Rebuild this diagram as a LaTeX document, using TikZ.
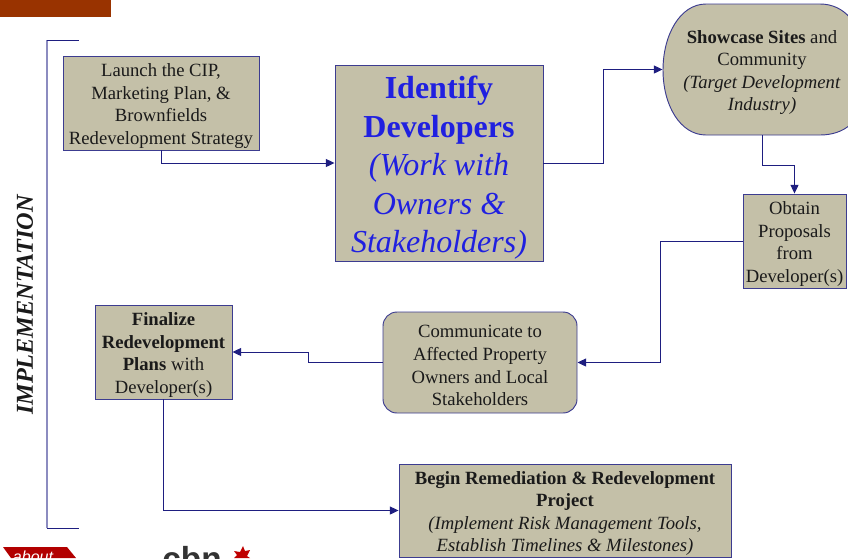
\documentclass[tikz,border=0pt]{standalone}
\usepackage{fontspec}
\setmainfont{Liberation Serif}
\setsansfont{Liberation Sans}
\usetikzlibrary{arrows.meta}
\definecolor{boxfill}{HTML}{C4C0A8}
\definecolor{navy}{HTML}{1E1E80}
\definecolor{edge}{HTML}{3C3C90}
\definecolor{brack}{HTML}{8C8CC0}
\definecolor{rust}{HTML}{993300}
\definecolor{blu}{HTML}{2020E0}
\definecolor{ink}{HTML}{1A1A1A}
\newcommand{\drop}{\rule{0pt}{14pt}}
\tikzset{
  px/.style={x=0.75pt,y=-0.75pt},
  stepbox/.style={draw=edge,line width=0.7pt,fill=boxfill,text=ink,align=center,inner sep=0pt,
    font=\fontsize{14pt}{16.9pt}\selectfont},
  conn/.style={draw=navy,line width=0.75pt},
  arr/.style={conn,-{Triangle[length=6.5pt,width=6pt,fill=navy]}},
}
\begin{document}
\begin{tikzpicture}[px]
\useasboundingbox (0,0) rectangle (848,558);
\clip (0,0) rectangle (848,558);
\fill[rust] (0,0) rectangle (111,17);
% bracket
\draw[brack,line width=1.4pt] (47,40) -- (47,528);
\draw[navy,line width=0.6pt] (46.5,40) -- (79,40);
\draw[navy,line width=0.6pt] (46.5,528) -- (79,528);
\node[rotate=90,text=ink,font=\fontsize{18.2pt}{20pt}\selectfont\bfseries\itshape] (impl) at (25,305) {IMPLEMENTATION};
% showcase shape
\draw[edge,line width=0.7pt,fill=boxfill] (663,70)
  .. controls (663,35) and (680,4) .. (706,4) -- (820,4)
  .. controls (845,4) and (861,25) .. (861,50) -- (861,100)
  .. controls (861,120) and (845,135) .. (820,135) -- (706,135)
  .. controls (680,135) and (663,105) .. (663,70) -- cycle;
\node[stepbox,draw=none,fill=none,minimum width=148.5pt,minimum height=98.25pt] (show) at (762,69.5)
  {\drop\textbf{Showcase Sites} and\\Community\\\textit{(Target Development}\\\textit{Industry)}};
% boxes
\node[stepbox,minimum width=147pt,minimum height=70.5pt] (launch) at (161,103)
  {\drop Launch the CIP,\\Marketing Plan, \&\\Brownfields\\Redevelopment Strategy};
\node[stepbox,minimum width=156pt,minimum height=147pt,text=blu,font=\fontsize{24pt}{28.8pt}\selectfont] (ident) at (439,163)
  {\rule{0pt}{24pt}\textbf{Identify}\\\textbf{Developers}\\\textit{(Work with}\\\textit{Owners \&}\\\textit{Stakeholders)}};
\node[stepbox,minimum width=77.25pt,minimum height=70.5pt] (obtain) at (794.5,241)
  {\drop Obtain\\Proposals\\from\\Developer(s)};
\node[stepbox,rounded corners=10.5pt,minimum width=145.5pt,minimum height=75.75pt] (comm) at (480,362.5)
  {\drop Communicate to\\Affected Property\\Owners and Local\\Stakeholders};
\node[stepbox,minimum width=102.75pt,minimum height=70.5pt] (final) at (163.5,352)
  {\drop\textbf{Finalize}\\\textbf{Redevelopment}\\\textbf{Plans} with\\Developer(s)};
\node[stepbox,minimum width=249pt,minimum height=69.75pt] (begin) at (565,510.5)
  {\drop\textbf{Begin Remediation \& Redevelopment}\\\textbf{Project}\\\textit{(Implement Risk Management Tools,}\\\textit{Establish Timelines \& Milestones)}};
% waypoints
\coordinate (w1) at (603,163);
\coordinate (w2) at (603,69.5);
\coordinate (w3) at (762,165);
\coordinate (w4) at (794.5,165);
\coordinate (w5) at (660,241);
\coordinate (w6) at (660,362.5);
\coordinate (w7) at (308,362.5);
\coordinate (w8) at (308,352);
% connectors
\draw[arr] (launch.south) |- (ident.west);
\draw[arr] (ident.east) -- (w1) -- (w2) -- (show.west);
\draw[arr] (show.south) -- (w3) -- (w4) -- (obtain.north);
\draw[arr] (obtain.west) -- (w5) -- (w6) -- (comm.east);
\draw[arr] (comm.west) -- (w7) -- (w8) -- (final.east);
\draw[arr] (final.south) |- (begin.west);
% logos, cut by the lower edge as in the reference
\fill[red!70!black] (3,547) -- (67,547) -- (76,558) -- (11,558) -- cycle;
\node[text=white,font=\fontsize{12pt}{13pt}\selectfont\sffamily\itshape,anchor=base] (about) at (33,562) {about};
\node[text=black!80,font=\fontsize{25pt}{26pt}\selectfont\sffamily\bfseries,anchor=base] (cbn) at (192,570) {cbn};
\fill[red!75!black] (243,546) -- (245,551) -- (250,550) -- (247,556) -- (250,558) -- (234,558) -- (237,555) -- (234,551) -- (240,552) -- cycle;
\end{tikzpicture}
\end{document}
